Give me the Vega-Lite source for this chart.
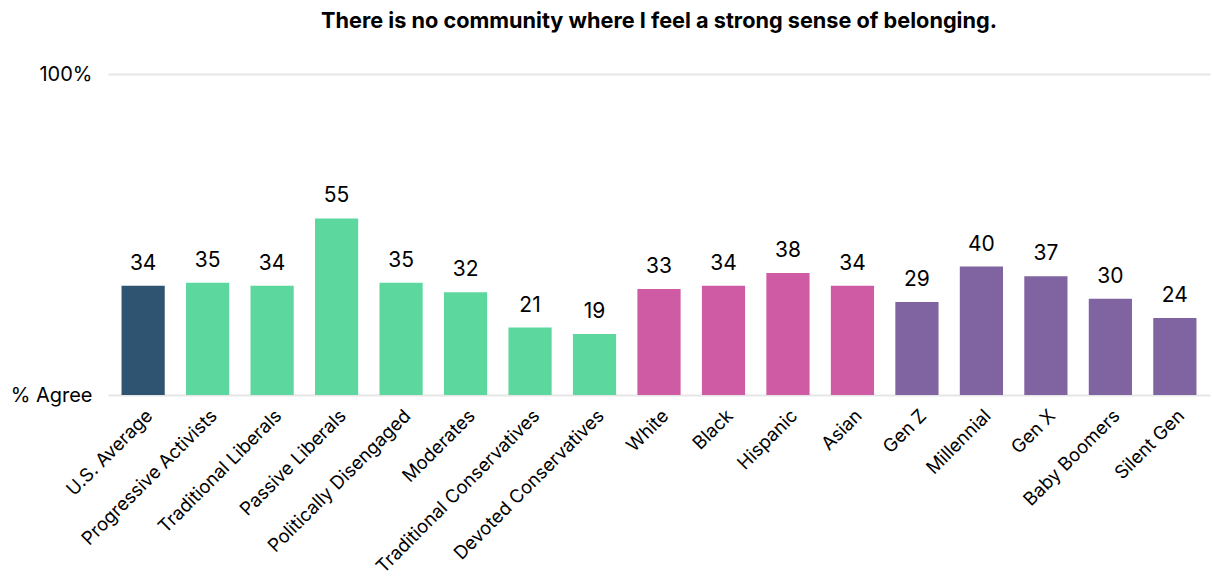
{
  "$schema": "https://vega.github.io/schema/vega-lite/v6.json",
  "width": 1102,
  "height": 321,
  "autosize": {"type": "none"},
  "padding": {"left": 108, "top": 74, "right": 2, "bottom": 185},
  "background": "white",
  "config": {"view": {"stroke": null}, "font": "Inter"},
  "title": {
    "text": "There is no community where I feel a strong sense of belonging.",
    "fontSize": 21.7,
    "fontWeight": "bold",
    "font": "Inter",
    "color": "#000000",
    "anchor": "middle",
    "offset": 31
  },
  "data": {
    "values": [
      {"group": "U.S. Average", "value": 34, "cat": "avg"},
      {"group": "Progressive Activists", "value": 35, "cat": "seg"},
      {"group": "Traditional Liberals", "value": 34, "cat": "seg"},
      {"group": "Passive Liberals", "value": 55, "cat": "seg"},
      {"group": "Politically Disengaged", "value": 35, "cat": "seg"},
      {"group": "Moderates", "value": 32, "cat": "seg"},
      {"group": "Traditional Conservatives", "value": 21, "cat": "seg"},
      {"group": "Devoted Conservatives", "value": 19, "cat": "seg"},
      {"group": "White", "value": 33, "cat": "race"},
      {"group": "Black", "value": 34, "cat": "race"},
      {"group": "Hispanic", "value": 38, "cat": "race"},
      {"group": "Asian", "value": 34, "cat": "race"},
      {"group": "Gen Z", "value": 29, "cat": "gen"},
      {"group": "Millennial", "value": 40, "cat": "gen"},
      {"group": "Gen X", "value": 37, "cat": "gen"},
      {"group": "Baby Boomers", "value": 30, "cat": "gen"},
      {"group": "Silent Gen", "value": 24, "cat": "gen"}
    ]
  },
  "encoding": {
    "x": {
      "field": "group",
      "type": "nominal",
      "sort": null,
      "scale": {"paddingInner": 0.33, "paddingOuter": 0.21},
      "axis": {
        "title": null,
        "labelAngle": -45,
        "labelAlign": "right",
        "labelBaseline": "top",
        "labelFontSize": 18.5,
        "labelColor": "#000000",
        "labelPadding": 11,
        "ticks": false,
        "domain": false,
        "labelLimit": 300
      }
    },
    "y": {
      "field": "value",
      "type": "quantitative",
      "scale": {"domain": [0, 100]},
      "axis": {
        "title": null,
        "values": [0, 100],
        "labelExpr": "datum.value == 0 ? '% Agree' : '100%'",
        "labelFontSize": 20,
        "labelColor": "#000000",
        "labelPadding": 16,
        "ticks": false,
        "domain": false,
        "grid": true,
        "gridColor": "#e6e6e6",
        "gridWidth": 2
      }
    }
  },
  "layer": [
    {
      "mark": {"type": "bar"},
      "encoding": {
        "color": {
          "field": "cat",
          "type": "nominal",
          "scale": {
            "domain": ["avg", "seg", "race", "gen"],
            "range": ["#2F5472", "#5CD79D", "#D05BA5", "#8063A1"]
          },
          "legend": null
        }
      }
    },
    {
      "mark": {"type": "text", "baseline": "alphabetic", "dy": -16, "fontSize": 21, "color": "#000000"},
      "encoding": {"text": {"field": "value", "type": "quantitative"}}
    }
  ]
}
